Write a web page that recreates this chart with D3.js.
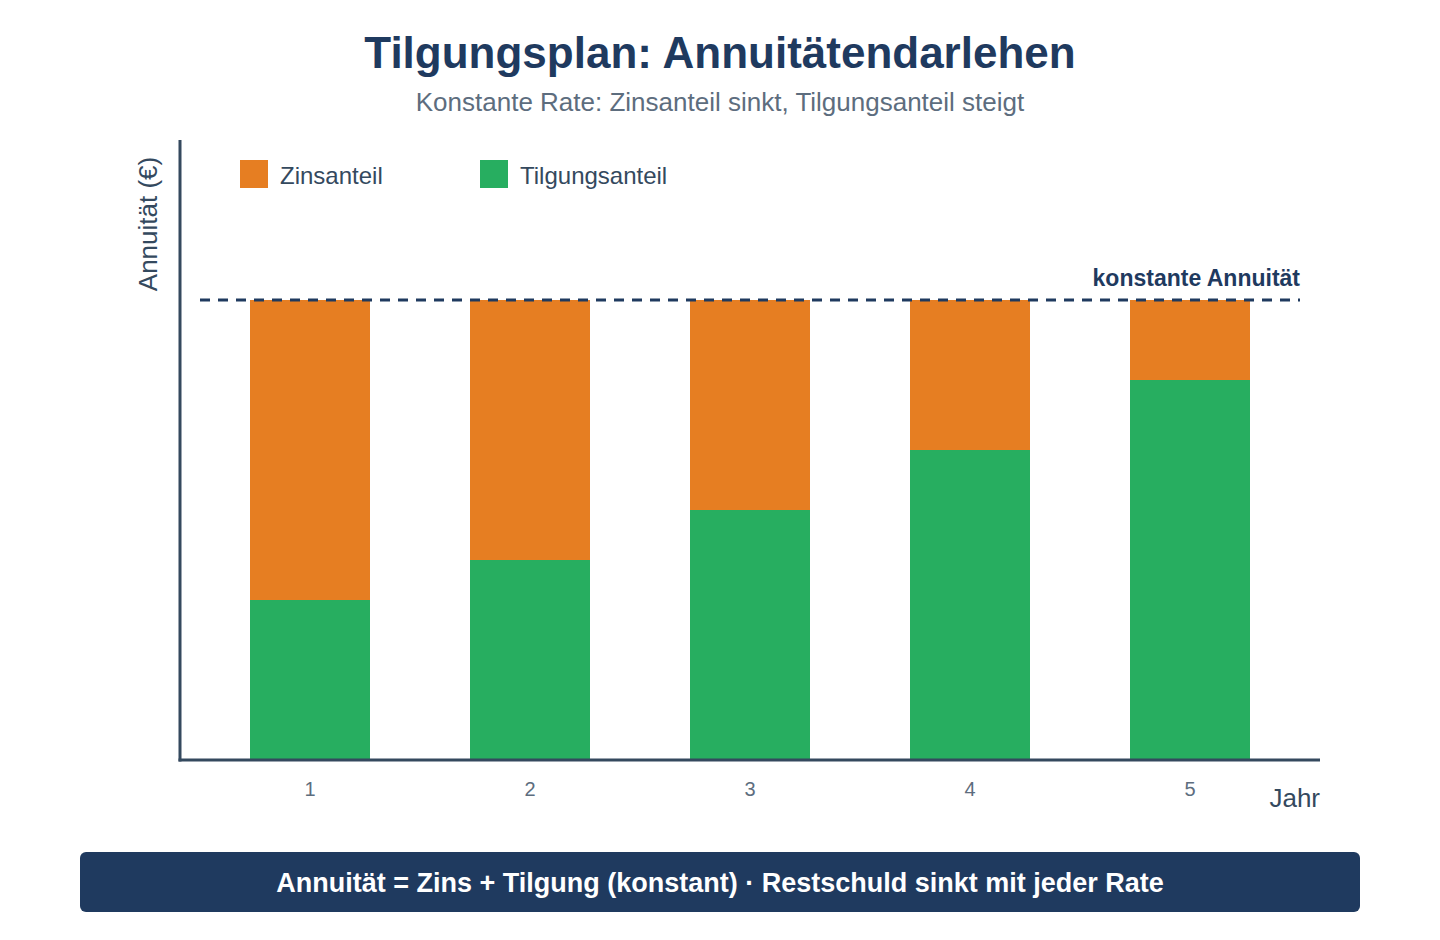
<!DOCTYPE html>
<html>
    <head>
        <meta charset="utf-8">
        <script src="https://d3js.org/d3.v7.min.js"></script>
        <style>
            body { margin:0; background:#fff; }
            svg { font-family:"Liberation Sans", Arial, sans-serif; }
        </style>
    </head>
    <body>
        <script>
            var years = ["1", "2", "3", "4", "5"];
            var zinsanteil = [300, 260, 210, 150, 80];
            var tilgungsanteil = [160, 200, 250, 310, 380];
            var annuitaet = 460;
            var legendLabels = ["Zinsanteil", "Tilgungsanteil"];

            var width = 1440, height = 940;
            var navy = "#1f3a5f", axisColor = "#34495e", grey = "#5d6d7e";
            var orange = "#e67e22", green = "#27ae60";

            var data = years.map(function (y, i) {
                return {year: y, tilgung: tilgungsanteil[i], zins: zinsanteil[i]};
            });

            var svg = d3.select("body").append("svg")
                    .attr("width", width)
                    .attr("height", height);

            svg.append("text")
                    .attr("x", 720).attr("y", 68)
                    .attr("text-anchor", "middle")
                    .style("font-size", "44px").style("font-weight", "bold")
                    .style("fill", navy)
                    .text("Tilgungsplan: Annuitätendarlehen");

            svg.append("text")
                    .attr("x", 720).attr("y", 111)
                    .attr("text-anchor", "middle")
                    .style("font-size", "26px")
                    .style("fill", grey)
                    .text("Konstante Rate: Zinsanteil sinkt, Tilgungsanteil steigt");

            var x = d3.scaleBand()
                    .domain(years)
                    .range([200, 1300])
                    .paddingInner(100 / 220)
                    .paddingOuter(50 / 220);

            var y = d3.scaleLinear()
                    .domain([0, 620])
                    .range([760, 140]);

            var stack = d3.stack().keys(["tilgung", "zins"]);
            var series = stack(data);
            var color = d3.scaleOrdinal().domain(["tilgung", "zins"]).range([green, orange]);

            svg.append("g").selectAll("g")
                    .data(series)
                    .enter().append("g")
                    .attr("fill", function (d) { return color(d.key); })
                    .selectAll("rect")
                    .data(function (d) { return d; })
                    .enter().append("rect")
                    .attr("x", function (d) { return x(d.data.year); })
                    .attr("y", function (d) { return y(d[1]); })
                    .attr("width", x.bandwidth())
                    .attr("height", function (d) { return y(d[0]) - y(d[1]); });

            // axes
            svg.append("line")
                    .attr("x1", 180).attr("x2", 180)
                    .attr("y1", y(620)).attr("y2", y(0) + 1.5)
                    .style("stroke", axisColor).style("stroke-width", 3);
            svg.append("line")
                    .attr("x1", 178.5).attr("x2", 1320)
                    .attr("y1", y(0)).attr("y2", y(0))
                    .style("stroke", axisColor).style("stroke-width", 3);

            var xAxis = d3.axisBottom(x).tickSize(0).tickPadding(0);
            var gx = svg.append("g")
                    .attr("transform", "translate(0," + y(0) + ")")
                    .call(xAxis);
            gx.select(".domain").remove();
            gx.selectAll("text")
                    .attr("y", 36).attr("dy", null)
                    .style("font-family", "'Liberation Sans', Arial, sans-serif")
                    .style("font-size", "20px")
                    .style("fill", grey);

            svg.append("text")
                    .attr("x", 1320).attr("y", 807)
                    .attr("text-anchor", "end")
                    .style("font-size", "26px")
                    .style("fill", axisColor)
                    .text("Jahr");

            svg.append("text")
                    .attr("transform", "translate(157,224) rotate(-90)")
                    .attr("text-anchor", "middle")
                    .style("font-size", "26px")
                    .style("fill", axisColor)
                    .text("Annuität (€)");

            // constant annuity line
            svg.append("line")
                    .attr("x1", 200).attr("x2", 1300)
                    .attr("y1", y(annuitaet)).attr("y2", y(annuitaet))
                    .style("stroke", navy).style("stroke-width", 3)
                    .style("stroke-dasharray", "10,8");
            svg.append("text")
                    .attr("x", 1300).attr("y", y(annuitaet) - 14)
                    .attr("text-anchor", "end")
                    .style("font-size", "23px").style("font-weight", "bold")
                    .style("fill", navy)
                    .text("konstante Annuität");

            // legend
            var legend = svg.append("g").selectAll("g")
                    .data(legendLabels)
                    .enter().append("g")
                    .attr("transform", function (d, i) { return "translate(" + (240 + i * 240) + ",160)"; });
            legend.append("rect")
                    .attr("width", 28).attr("height", 28)
                    .attr("fill", function (d, i) { return i === 0 ? orange : green; });
            legend.append("text")
                    .attr("x", 40).attr("y", 24)
                    .style("font-size", "24px")
                    .style("fill", axisColor)
                    .text(function (d) { return d; });

            // footer
            svg.append("rect")
                    .attr("x", 80).attr("y", 852)
                    .attr("width", 1280).attr("height", 60)
                    .attr("rx", 6)
                    .attr("fill", navy);
            svg.append("text")
                    .attr("x", 720).attr("y", 892)
                    .attr("text-anchor", "middle")
                    .style("font-size", "27px").style("font-weight", "bold")
                    .style("fill", "#fff")
                    .text("Annuität = Zins + Tilgung (konstant) · Restschuld sinkt mit jeder Rate");
        </script>
    </body>
</html>
